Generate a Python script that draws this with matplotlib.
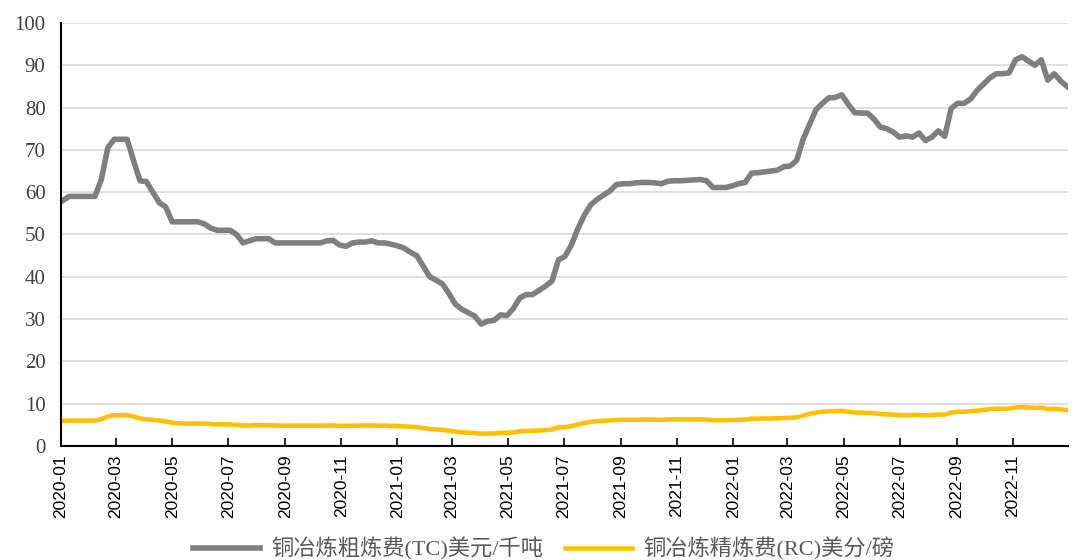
import numpy as np
import pandas as pd
import matplotlib
matplotlib.use("Agg")
import matplotlib.pyplot as plt
import matplotlib.dates as mdates

# weekly observations, 2020-01-03 .. 2022-12-30
dates = pd.date_range("2020-01-03", periods=157, freq="7D")

tc = [58, 59, 59, 59, 59, 59, 63, 70.5, 72.5, 72.5,
      72.5, 67.5, 62.7, 62.5, 60, 57.5, 56.5, 53, 53, 53,
      53, 53, 52.5, 51.5, 51, 51, 51, 50, 48, 48.5,
      49, 49, 49, 48, 48, 48, 48, 48, 48, 48,
      48, 48.5, 48.6, 47.5, 47.2, 48, 48.2, 48.2, 48.5, 48,
      48, 47.7, 47.3, 46.8, 45.8, 45, 42.5, 40, 39.2, 38.3,
      36, 33.5, 32.3, 31.5, 30.7, 28.8, 29.5, 29.7, 31, 30.8,
      32.5, 35, 35.8, 35.8, 36.8, 37.8, 39, 44, 44.8, 47.5,
      51.3, 54.5, 57, 58.3, 59.3, 60.3, 61.8, 62, 62, 62.2,
      62.3, 62.3, 62.2, 62, 62.6, 62.7, 62.7, 62.8, 62.9, 63,
      62.7, 61.1, 61.1, 61.1, 61.5, 62, 62.3, 64.5, 64.6, 64.8,
      65, 65.2, 66, 66.2, 67.5, 72.5, 76, 79.5, 81, 82.3,
      82.4, 83, 80.8, 78.8, 78.7, 78.7, 77.3, 75.4, 75, 74.2,
      73, 73.3, 73, 74, 72.2, 73, 74.5, 73.2, 79.8, 81,
      81, 82, 84, 85.5, 87, 88, 88, 88.2, 91.3, 92,
      91, 90, 91.3, 86.5, 88, 86.3, 85]

rc = [5.9, 6.0, 6.0, 6.0, 6.0, 6.0, 6.3, 7.0, 7.25, 7.3,
      7.3, 7.0, 6.5, 6.3, 6.2, 6.0, 5.8, 5.5, 5.35, 5.3,
      5.3, 5.3, 5.3, 5.2, 5.1, 5.1, 5.1, 5.0, 4.85, 4.85,
      4.9, 4.9, 4.9, 4.85, 4.8, 4.8, 4.8, 4.8, 4.8, 4.8,
      4.8, 4.85, 4.85, 4.75, 4.75, 4.8, 4.8, 4.85, 4.85, 4.8,
      4.8, 4.75, 4.7, 4.65, 4.55, 4.45, 4.25, 4.0, 3.9, 3.8,
      3.6, 3.4, 3.25, 3.15, 3.05, 2.9, 2.95, 2.95, 3.1, 3.1,
      3.25, 3.5, 3.55, 3.6, 3.65, 3.75, 3.9, 4.4, 4.45, 4.7,
      5.1, 5.4, 5.7, 5.85, 5.95, 6.05, 6.15, 6.2, 6.2, 6.2,
      6.25, 6.25, 6.2, 6.2, 6.25, 6.3, 6.3, 6.3, 6.3, 6.3,
      6.25, 6.1, 6.1, 6.1, 6.15, 6.2, 6.25, 6.45, 6.45, 6.5,
      6.5, 6.55, 6.6, 6.65, 6.75, 7.2, 7.6, 7.9, 8.1, 8.2,
      8.25, 8.3, 8.1, 7.9, 7.9, 7.85, 7.75, 7.55, 7.5, 7.4,
      7.3, 7.3, 7.3, 7.35, 7.25, 7.3, 7.45, 7.4, 7.9, 8.1,
      8.1, 8.2, 8.35, 8.5, 8.7, 8.8, 8.8, 8.85, 9.1, 9.2,
      9.1, 9.0, 9.1, 8.7, 8.8, 8.65, 8.5]

labels = ["铜冶炼粗炼费(TC)美元/千吨", "铜冶炼精炼费(RC)美分/磅"]
yticks = list(range(0, 101, 10))

fig = plt.figure(figsize=(10.87, 5.6), dpi=100)
ax = fig.add_axes([0.056, 0.2036, 0.9265, 0.7554])

ax.plot(dates, tc, color="#7f7f7f", lw=4.0, label=labels[0], solid_joinstyle="round")
ax.plot(dates, rc, color="#ffc000", lw=3.3, label=labels[1], solid_joinstyle="round")

ax.set_ylim(0, 100)
ax.set_yticks(yticks)
ax.set_xlim(pd.Timestamp("2020-01-01"), pd.Timestamp("2022-12-31"))
ax.xaxis.set_major_locator(mdates.MonthLocator(bymonth=[1, 3, 5, 7, 9, 11]))
ax.xaxis.set_major_formatter(mdates.DateFormatter("%Y-%m"))

ax.grid(axis="y", color="#d9d9d9", lw=1.2)
ax.set_axisbelow(True)
for s in ["top", "right"]:
    ax.spines[s].set_visible(False)
ax.spines["left"].set_linewidth(1.5)
ax.spines["bottom"].set_linewidth(1.5)

ax.tick_params(axis="y", length=0, pad=11, labelsize=15, labelcolor="#404040")
ax.tick_params(axis="x", direction="in", length=6, width=1.2, pad=6)
for t in ax.get_yticklabels():
    t.set_fontfamily("Liberation Serif")
for t in ax.get_xticklabels():
    t.set_rotation(90)
    t.set_fontfamily("Liberation Sans")
    t.set_fontsize(12.5)

fig.legend(loc="center", bbox_to_anchor=(0.5, 0.02), ncol=2, frameon=False,
           handlelength=3.0, columnspacing=1.0, handletextpad=0.5,
           prop={"family": ["Liberation Serif", "Noto Sans CJK SC"], "size": 16},
           labelcolor="#595959")

fig.savefig("out.png", dpi=100)
